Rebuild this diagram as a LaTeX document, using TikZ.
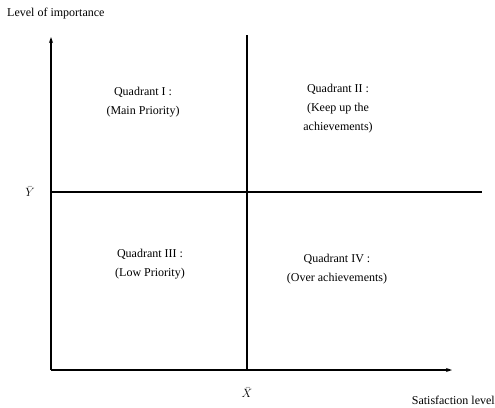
\documentclass[tikz,border=0pt]{standalone}
\usepackage{fontspec}
\setmainfont{Liberation Serif}
\usetikzlibrary{arrows.meta}
\begin{document}
\begin{tikzpicture}[x=1pt,y=-1pt,
  axis/.style={line width=1.3pt,-{Stealth[length=6pt,width=4pt]}},
  divider/.style={line width=1.3pt},
  lbl/.style={font=\fontsize{12}{19}\selectfont,align=center,inner sep=0pt}]
\useasboundingbox (0,0) rectangle (495,407);
\coordinate (O) at (51,370);
\coordinate (ytip) at (51,37);
\coordinate (xtip) at (452,370);
\coordinate (vtop) at (247,35);
\coordinate (vbot) at (247,370);
\coordinate (hleft) at (51,192);
\coordinate (hright) at (482,192);
\draw[axis] (O) -- (ytip);
\draw[axis] (O) -- (xtip);
\draw[divider] (vtop) -- (vbot);
\draw[divider] (hleft) -- (hright);
\node[lbl,anchor=west] (ylab) at (7,14) {Level of importance};
\node[lbl,anchor=east] (xlab) at (495,400) {Satisfaction level};
\node[lbl] (ybar) at (30,192) {$\bar{Y}$};
\node[lbl] (xbar) at (247,393) {$\bar{X}$};
\node[lbl] (q1) at (143,102) {Quadrant I :\\(Main Priority)};
\node[lbl] (q2) at (338,109) {Quadrant II :\\(Keep up the\\achievements)};
\node[lbl] (q3) at (150,264) {Quadrant III :\\(Low Priority)};
\node[lbl] (q4) at (337,269) {Quadrant IV :\\(Over achievements)};
\end{tikzpicture}
\end{document}
